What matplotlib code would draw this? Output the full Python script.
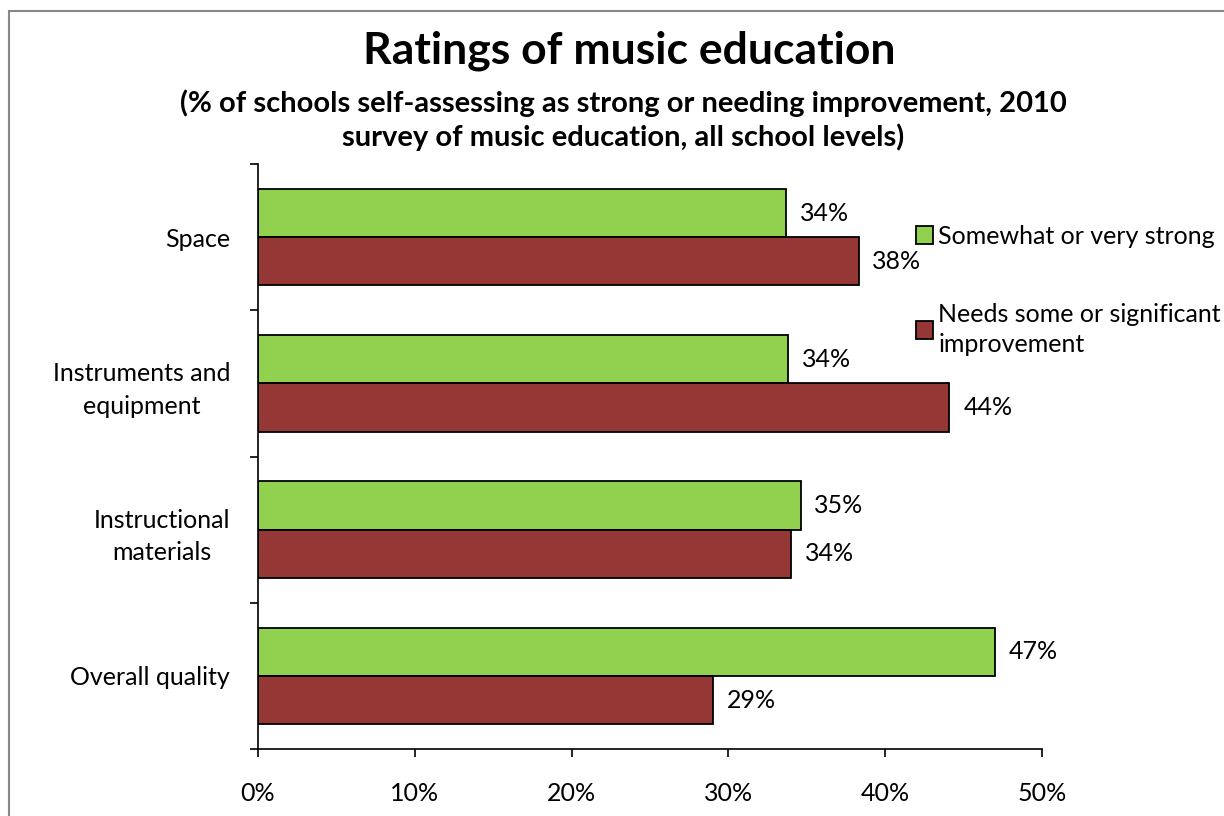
import numpy as np
import matplotlib.pyplot as plt
from matplotlib.patches import Rectangle
from matplotlib.ticker import FixedLocator, PercentFormatter

categories = ["Space", "Instruments and\nequipment", "Instructional\nmaterials", "Overall quality"]
strong = [33.7, 33.8, 34.6, 47.0]
needs = [38.3, 44.1, 34.0, 29.0]
series_names = ["Somewhat or very strong", "Needs some or significant\nimprovement"]
xticks = [0, 10, 20, 30, 40, 50]

plt.rcParams['font.family'] = ['Lato', 'DejaVu Sans']

fig = plt.figure(figsize=(12.24, 8.16), dpi=100)
ax = fig.add_axes([0.2108, 0.0821, 0.6405, 0.7169])

pos = np.arange(len(categories))[::-1]
h = 0.33
b1 = ax.barh(pos + h / 2, strong, height=h, color='#92D050', edgecolor='black', linewidth=1.3, label=series_names[0])
b2 = ax.barh(pos - h / 2, needs, height=h, color='#953735', edgecolor='black', linewidth=1.3, label=series_names[1])

for bars, vals in [(b1, strong), (b2, needs)]:
    for bar, v in zip(bars, vals):
        ax.annotate(f"{v:.0f}%", (v, bar.get_y() + bar.get_height() / 2),
                    xytext=(10, 0), textcoords='offset points', va='center', ha='left', fontsize=18)

ax.set_xlim(0, 50)
ax.set_ylim(-0.5, len(categories) - 0.5)
ax.xaxis.set_major_locator(FixedLocator(xticks))
ax.xaxis.set_major_formatter(PercentFormatter(decimals=0))
ax.set_yticks(pos)
ax.set_yticklabels(categories, fontsize=18, ha='right', multialignment='center', linespacing=1.5)
ax.tick_params(axis='y', which='major', length=0, pad=20)
ax.yaxis.set_minor_locator(FixedLocator(np.arange(-0.5, len(categories), 1)))
ax.tick_params(axis='y', which='minor', length=6, width=1.2, direction='out')
ax.tick_params(axis='x', length=6, width=1.2, direction='out', labelsize=18, pad=18)
for s in ['top', 'right']:
    ax.spines[s].set_visible(False)
for s in ['left', 'bottom']:
    ax.spines[s].set_linewidth(1.2)

fig.text(0.514, 0.938, "Ratings of music education", ha='center', va='center', fontsize=32, fontweight='bold')
fig.text(0.509, 0.853, "(% of schools self-assessing as strong or needing improvement, 2010\nsurvey of music education, all school levels)",
         ha='center', va='center', fontsize=21, fontweight='bold', linespacing=1.3)

leg = ax.legend(loc='upper left', bbox_to_anchor=(0.738, 0.74), bbox_transform=fig.transFigure, frameon=False,
                fontsize=18, handlelength=0.7, handleheight=0.7, handletextpad=0.2, labelspacing=2.2, borderpad=0)
for t in leg.get_texts():
    t.set_linespacing(1.4)

fig.patches.append(Rectangle((0.0075, -0.01), 1.0, 0.9965, transform=fig.transFigure, fill=False,
                             edgecolor='#888888', linewidth=1.5))

fig.savefig("out.png", dpi=100)
